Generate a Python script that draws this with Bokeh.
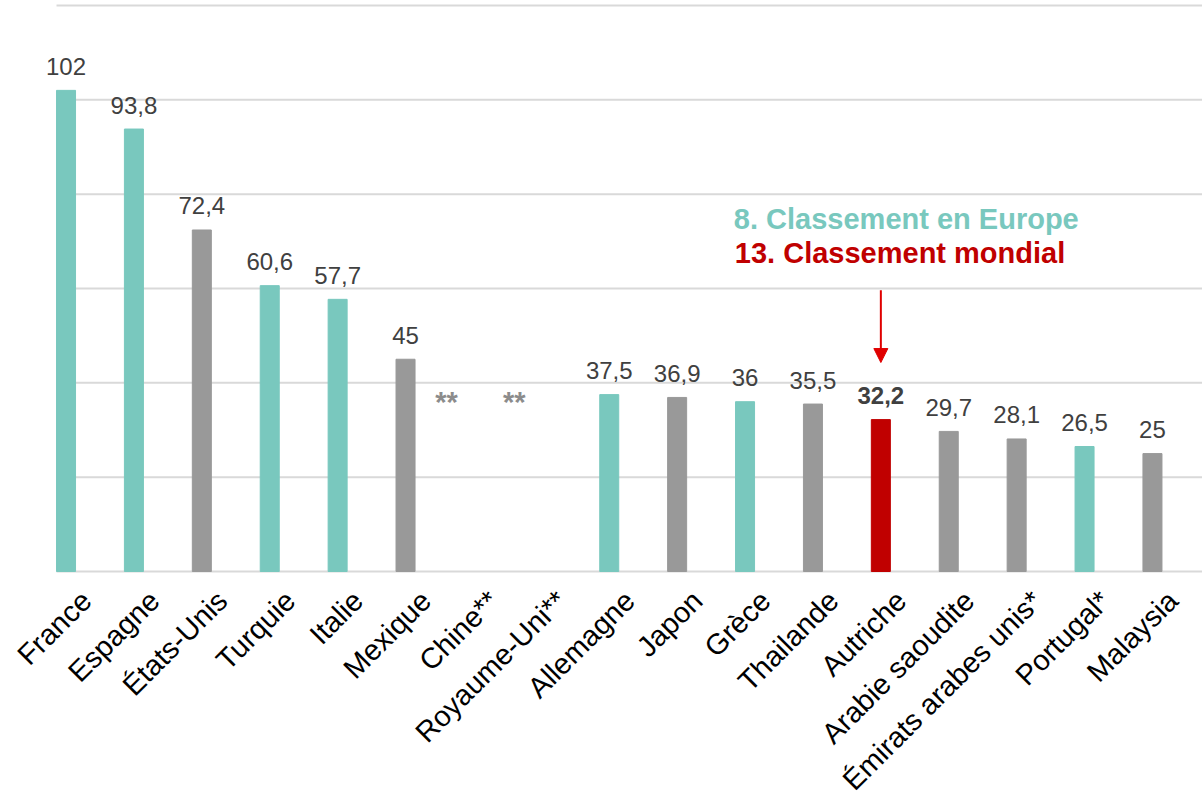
import math
from bokeh.plotting import figure
from bokeh.models import ColumnDataSource, Range1d, Label, Arrow, NormalHead
from bokeh.core.properties import value
from bokeh.embed import file_html
from bokeh.resources import INLINE

# ---------------- data ----------------
countries = ["France", "Espagne", "États-Unis", "Turquie", "Italie", "Mexique",
             "Chine**", "Royaume-Uni**", "Allemagne", "Japon", "Grèce", "Thailande",
             "Autriche", "Arabie saoudite", "Émirats arabes unis*", "Portugal*", "Malaysia"]
arrivals = [102, 93.8, 72.4, 60.6, 57.7, 45, None, None, 37.5, 36.9, 36, 35.5,
            32.2, 29.7, 28.1, 26.5, 25]
group = ["europe", "europe", "world", "europe", "europe", "world", "world", "europe",
         "europe", "world", "europe", "world", "austria", "world", "world", "europe", "world"]
missing_mark = "**"
missing_mark_level = 36
ranking_texts = ["8. Classement en Europe", "13. Classement mondial"]
y_ticks = [0, 20, 40, 60, 80, 100, 120]

# ---------------- styling ----------------
TEAL = "#79c8be"
GRAY = "#999999"
RED = "#c00000"
color_map = {"europe": TEAL, "world": GRAY, "austria": RED}
FONT = "Liberation Sans"
BAR_W = 0.28

idx = list(range(len(countries)))
tops = [float("nan") if v is None else v for v in arrivals]
colors = [color_map[g] for g in group]

src = ColumnDataSource(dict(x=idx, top=tops, color=colors))

lab_x, lab_y, lab_t, lab_s = [], [], [], []
miss_x = []
for i, v in enumerate(arrivals):
    if v is None:
        miss_x.append(i)
        continue
    lab_x.append(i)
    lab_y.append(v)
    lab_t.append(f"{v:g}".replace(".", ","))
    lab_s.append("bold" if group[i] == "austria" else "normal")
lab_src = ColumnDataSource(dict(x=lab_x, y=lab_y, t=lab_t, s=lab_s))
miss_src = ColumnDataSource(dict(x=miss_x, y=[missing_mark_level] * len(miss_x),
                                 t=[missing_mark] * len(miss_x)))
cat_src = ColumnDataSource(dict(x=idx, y=[0] * len(idx), t=countries))

X0, X1 = -0.965, 16.737
p = figure(width=1202, height=798, output_backend="svg", toolbar_location=None,
           x_range=Range1d(X0, X1), y_range=Range1d(-48.12, 121.05),
           min_border=0)
p.outline_line_color = None
p.background_fill_color = "white"
p.border_fill_color = "white"
p.xaxis.visible = False
p.yaxis.visible = False
p.grid.visible = False

# horizontal gridlines, starting at the left edge of the first bar
grid_left = idx[0] - BAR_W / 2
p.segment(x0=[grid_left] * len(y_ticks), x1=[X1] * len(y_ticks), y0=y_ticks, y1=y_ticks,
          line_color="#d9d9d9", line_width=2)

p.vbar(x="x", top="top", bottom=0, width=BAR_W, color="color", source=src)

# value labels
p.text(x="x", y="y", text="t", source=lab_src, text_align="center",
       text_baseline="alphabetic", y_offset=-24, text_font=value(FONT),
       text_font_size="24px", text_color="#404040", text_font_style="s")

# missing-data marks
p.text(x="x", y="y", text="t", source=miss_src, text_align="center",
       text_baseline="middle", x_offset=-27, text_font=value(FONT),
       text_font_size="29px", text_color="#8c8c8c", text_font_style="bold")

# category labels (rotated, below the baseline)
p.text(x="x", y="y", text="t", source=cat_src, angle=math.pi / 4,
       text_align="right", text_baseline="top", x_offset=9, y_offset=13,
       text_font=value(FONT), text_font_size="29px", text_color="black")

# annotation for Austria
ai = group.index("austria")
p.add_layout(Label(x=ai, y=74.8, x_offset=-147, text=ranking_texts[0],
                   text_baseline="middle", text_align="left", text_font=FONT,
                   text_font_size="29px", text_font_style="bold", text_color=TEAL))
p.add_layout(Label(x=ai, y=67.6, x_offset=-146, text=ranking_texts[1],
                   text_baseline="middle", text_align="left", text_font=FONT,
                   text_font_size="29px", text_font_style="bold", text_color=RED))
p.add_layout(Arrow(x_start=ai, y_start=59.6, x_end=ai, y_end=44.3,
                   line_color="#e00000", line_width=2,
                   end=NormalHead(size=14, fill_color="#e00000", line_color="#e00000")))

open("out.html", "w").write(file_html(p, INLINE))
